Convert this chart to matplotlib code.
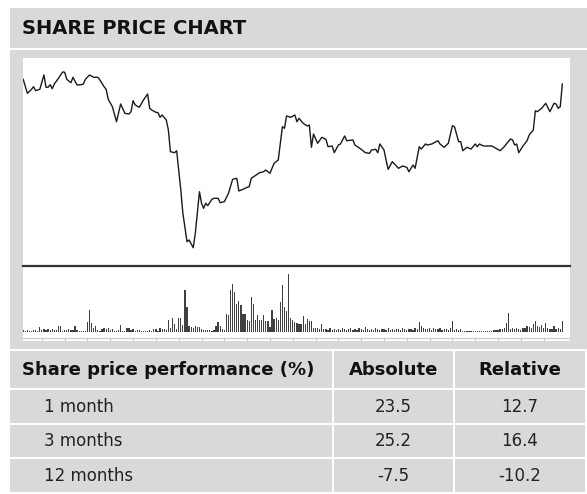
import matplotlib
matplotlib.use('Agg')
from matplotlib import pyplot as plt
from matplotlib.patches import Rectangle

# Share price (trading day index, price)
days = [0, 2, 4, 5, 6, 8, 10, 11, 12, 13, 14, 15, 17, 19, 20, 21, 23, 24, 26, 28,
        29, 30, 32, 34, 36, 37, 39, 40, 41, 43, 45, 47, 49, 51, 52, 53, 54, 56, 58, 60,
        61, 62, 64, 65, 66, 67, 69, 70, 71, 73, 74, 76, 77, 79, 80, 82, 83, 85, 86, 87,
        88, 89, 91, 92, 94, 95, 97, 99, 101, 103, 104, 106, 108, 109, 110, 113, 114, 116, 117, 119,
        121, 123, 125, 126, 127, 129, 131, 132, 133, 135, 137, 138, 139, 140, 142, 144, 146, 147, 149, 150,
        152, 153, 155, 156, 159, 160, 163, 165, 167, 168, 170, 171, 172, 174, 175, 176, 178, 180, 181, 183,
        185, 186, 188, 189, 191, 192, 194, 195, 197, 200, 201, 203, 205, 207, 208, 210, 211, 212, 214, 216,
        218, 219, 220, 222, 225, 226, 230, 232, 233, 235, 236, 237, 238, 239, 241, 243, 244, 246, 247, 248,
        250, 252, 254, 256, 257, 258, 259, 260]
prices = [220.7, 206.7, 210.7, 213.3, 209.3, 210.7, 225.0, 212.7, 212.7, 215.3, 211.3, 216.0, 221.7, 228.0, 227.7, 220.7, 217.3, 222.7, 215.0, 215.3,
          216.0, 220.7, 225.0, 222.7, 222.7, 220.0, 213.3, 210.7, 200.7, 193.3, 178.3, 196.0, 186.7, 186.0, 188.3, 199.3, 195.0, 192.7, 200.0, 206.0,
          191.7, 190.0, 187.7, 187.3, 182.7, 185.0, 180.0, 170.0, 148.3, 147.3, 149.3, 110.0, 86.7, 58.3, 60.0, 52.3, 66.7, 108.3, 96.7, 91.7,
          96.7, 94.3, 100.7, 101.7, 101.7, 97.3, 98.3, 106.7, 120.7, 121.7, 109.0, 110.7, 112.7, 113.3, 121.7, 126.0, 127.3, 128.3, 130.0, 126.7,
          136.7, 140.0, 173.3, 171.7, 184.0, 182.7, 185.0, 178.3, 181.7, 176.7, 174.0, 175.0, 152.7, 166.0, 156.7, 162.7, 160.7, 153.3, 154.0, 147.3,
          155.0, 156.0, 164.0, 159.3, 160.0, 155.0, 150.7, 147.3, 146.7, 150.0, 150.7, 147.3, 156.0, 150.0, 140.0, 130.7, 138.3, 134.0, 131.7, 134.0,
          132.7, 128.3, 135.0, 131.7, 153.3, 151.0, 156.0, 155.0, 156.0, 159.3, 156.0, 152.7, 156.7, 174.3, 173.3, 158.3, 158.3, 149.3, 152.7, 151.0,
          156.0, 153.3, 156.0, 154.0, 154.0, 154.0, 149.3, 153.3, 156.0, 161.0, 160.0, 155.0, 156.0, 147.3, 154.0, 159.3, 165.0, 170.0, 189.3, 188.3,
          191.7, 196.7, 188.3, 196.7, 196.0, 191.7, 193.3, 216.0]

# Daily volume (one bar per trading day)
volume = [2, 1, 2, 1, 1, 2, 2, 1, 5, 2,
          3, 2, 3, 2, 3, 2, 2, 6, 6, 1,
          2, 2, 3, 2, 2, 6, 2, 1, 1, 1,
          1, 10, 22, 9, 4, 6, 2, 1, 3, 4,
          3, 4, 2, 3, 1, 1, 2, 7, 1, 1,
          4, 4, 2, 3, 1, 2, 2, 1, 1, 1,
          1, 2, 1, 3, 3, 1, 4, 3, 3, 2,
          12, 4, 14, 8, 3, 14, 14, 7, 42, 25,
          6, 5, 4, 6, 5, 5, 3, 2, 2, 2,
          2, 1, 2, 6, 10, 6, 3, 2, 18, 17,
          42, 48, 40, 28, 31, 27, 18, 18, 12, 11,
          35, 28, 12, 17, 12, 12, 17, 11, 11, 5,
          22, 13, 14, 12, 30, 47, 25, 21, 58, 14,
          12, 10, 9, 8, 8, 16, 8, 13, 11, 11,
          4, 4, 4, 3, 8, 3, 3, 2, 4, 2,
          3, 2, 3, 2, 4, 3, 2, 3, 4, 2,
          3, 2, 4, 3, 2, 5, 3, 2, 3, 2,
          4, 3, 2, 3, 3, 2, 4, 2, 3, 2,
          3, 3, 2, 4, 3, 2, 3, 3, 2, 4,
          3, 10, 6, 4, 3, 3, 4, 2, 4, 3,
          3, 4, 2, 3, 3, 2, 4, 11, 2, 3,
          2, 3, 1, 1, 1, 1, 1, 1, 1, 1,
          1, 1, 1, 1, 1, 1, 1, 2, 2, 2,
          3, 3, 4, 9, 19, 3, 4, 3, 4, 3,
          2, 4, 4, 6, 5, 4, 8, 11, 6, 5,
          7, 4, 9, 4, 3, 3, 6, 3, 4, 3,
          11]

title = "SHARE PRICE CHART"
col_labels = ["Share price performance (%)", "Absolute", "Relative"]
periods = ["1 month", "3 months", "12 months"]
absolute = [23.5, 25.2, -7.5]
relative = [12.7, 16.4, -10.2]

GREY = '#d9d9d9'
W, H = 587, 494

fig = plt.figure(figsize=(W / 100, H / 100), dpi=100)
fig.patch.set_facecolor('white')


def px_axes(x0, y0, x1, y1):
    # axes placed by pixel box (top-left origin)
    return fig.add_axes([x0 / W, 1 - y1 / H, (x1 - x0) / W, (y1 - y0) / H])


# background layer in pixel units
bg = fig.add_axes([0, 0, 1, 1])
bg.set_xlim(0, W)
bg.set_ylim(H, 0)
bg.axis('off')

bg.add_patch(Rectangle((10, 8), W - 10, 40, color=GREY, lw=0))
bg.text(22, 29, title, fontsize=14, fontweight='bold', va='center', ha='left', color='#111111')

bg.add_patch(Rectangle((10, 50), W - 10, 299, color=GREY, lw=0))
bg.add_patch(Rectangle((23, 58), 570 - 23, 283, color='white', lw=0))

# table
row_edges = [351, 390, 425, 459, 494]
col_edges = [10, 334, 455, W]
for r in range(4):
    for c in range(3):
        x0, x1 = col_edges[c], col_edges[c + 1]
        y0, y1 = row_edges[r], row_edges[r + 1]
        bg.add_patch(Rectangle((x0, y0), x1 - x0 - 2, y1 - y0 - 2, color=GREY, lw=0))

hy = (row_edges[0] + row_edges[1] - 2) / 2
bg.text(22, hy, col_labels[0], fontsize=13, fontweight='bold', va='center', ha='left', color='#111111')
for c in (1, 2):
    xc = (col_edges[c] + col_edges[c + 1] - 2) / 2
    bg.text(xc, hy, col_labels[c], fontsize=13, fontweight='bold', va='center', ha='center', color='#111111')

for i, p in enumerate(periods):
    yc = (row_edges[i + 1] + row_edges[i + 2] - 2) / 2
    bg.text(44, yc, p, fontsize=12, va='center', ha='left', color='#222222')
    bg.text((col_edges[1] + col_edges[2] - 2) / 2, yc, f"{absolute[i]:.1f}", fontsize=12,
            va='center', ha='center', color='#222222')
    bg.text((col_edges[2] + col_edges[3] - 2) / 2, yc, f"{relative[i]:.1f}", fontsize=12,
            va='center', ha='center', color='#222222')

XMIN, XMAX = -0.1, 263.7

# price panel
ax = px_axes(23, 58, 570, 265)
ax.plot(days, prices, color='#1a1a1a', lw=1.0)
ax.set_xlim(XMIN, XMAX)
ax.set_ylim(35, 242)
ax.axis('off')

# separator line
bg.plot([23, 570], [266, 266], color='#333333', lw=1.6)

# volume panel
vax = px_axes(23, 268, 570, 338)
vax.bar(range(len(volume)), volume, width=0.6, color='#404040', lw=0)
vax.set_xlim(XMIN, XMAX)
vax.set_ylim(-6, 64)
for s in ('top', 'left', 'right'):
    vax.spines[s].set_visible(False)
vax.spines['bottom'].set_color('#c8c8c8')
vax.spines['bottom'].set_linewidth(0.8)
vax.set_yticks([])
vax.set_xticks(range(9, 261, 11))
vax.tick_params(axis='x', length=2, width=0.5, color='#b0b0b0', labelbottom=False)
vax.patch.set_alpha(0)

fig.savefig('out.png', dpi=100, facecolor='white')
